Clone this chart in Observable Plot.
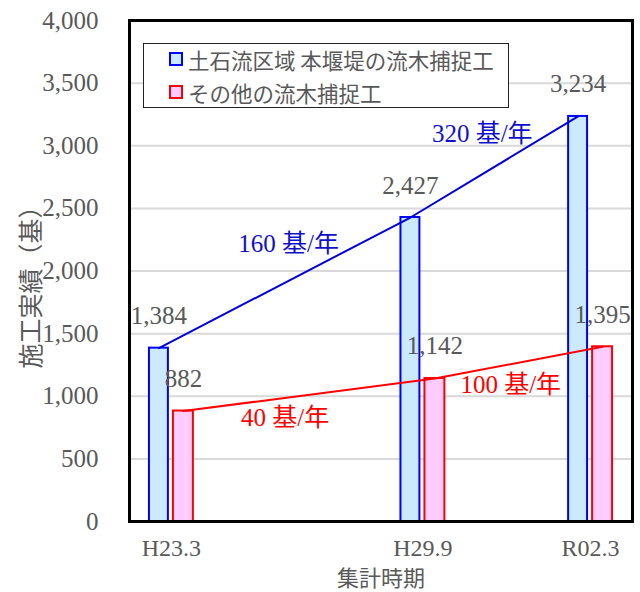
<!DOCTYPE html>
<html>
<head>
<meta charset="utf-8">
<script src="https://cdn.jsdelivr.net/npm/d3@7"></script>
<script src="https://cdn.jsdelivr.net/npm/@observablehq/plot@0.6"></script>
<style>
  body { margin: 0; background: #fff; }
  #wrap { position: relative; width: 640px; height: 592px; }
  #legend {
    position: absolute; left: 143px; top: 43px; width: 366px; height: 65px;
    box-sizing: border-box; border: 1.5px solid #222; background: #fff;
    font-family: "Noto Sans CJK JP", sans-serif; font-size: 21.5px; color: #595959;
  }
  .item { position: absolute; left: 25px; height: 26px; display: flex; align-items: center; white-space: nowrap; }
  .sw { width: 10px; height: 10px; border: 2px solid; margin-right: 5px; }
</style>
</head>
<body>
<div id="wrap"></div>
<script>
// ---- data ----
const periods = ["H23.3", "H29.9", "R02.3"];
const periodPos = [0, 1.5, 2.5];            // relative spacing of the periods on the x axis
const mainDam = [1384, 2427, 3234];          // 土石流区域 本堰堤の流木捕捉工
const otherWorks = [882, 1142, 1395];        // その他の流木捕捉工
const mainRates = [160, 320];                // 基/年 between periods
const otherRates = [40, 100];
const seriesNames = ["土石流区域 本堰堤の流木捕捉工", "その他の流木捕捉工"];
const yTicks = [0, 500, 1000, 1500, 2000, 2500, 3000, 3500, 4000];
const yLabel = "施工実績（基）";
const xLabel = "集計時期";

// ---- style ----
const blueStroke = "#0000ff", blueFill = "#cceaff";
const redStroke = "#ff0000", redFill = "#ffccff";
const blueText = "#1010cc", redText = "#ff0000";
const gray = "#595959";
const serif = '"Liberation Serif", "Noto Sans CJK JP", serif';
const cjk = '"Noto Sans CJK JP", sans-serif';

const rows = periods.map((p, i) => ({period: p, pos: periodPos[i], main: mainDam[i], other: otherWorks[i]}));

// bar offsets (in x units) relative to period position
const bOff = {b1: -0.131, b2: -0.018, r1: 0.012, r2: 0.131};
const bc = (bOff.b1 + bOff.b2) / 2, rc = (bOff.r1 + bOff.r2) / 2;

function rateLabel(vals, rates, i, off, color, dx, dy) {
  const d = {
    x: (periodPos[i] + periodPos[i + 1]) / 2 + off,
    y: (vals[i] + vals[i + 1]) / 2,
    t: `${rates[i]} 基/年`
  };
  return Plot.text([d], {x: "x", y: "y", text: "t", fill: color, fontSize: 25, dx, dy});
}

const chart = Plot.plot({
  width: 640,
  height: 592,
  marginLeft: 129,
  marginRight: 8,
  marginTop: 20,
  marginBottom: 71,
  style: {fontFamily: serif, fontSize: "24px", color: gray, background: "#fff"},
  x: {type: "linear", domain: [-0.25, 2.75], axis: null},
  y: {domain: [0, 4000], axis: null},
  marks: [
    Plot.gridY(yTicks.filter(t => t > 0 && t < 4000), {stroke: "#d9d9d9", strokeWidth: 2, strokeOpacity: 1}),
    Plot.axisY(yTicks, {tickSize: 0, tickPadding: 31, tickFormat: d3.format(","), fontSize: 25, fill: gray, label: null}),
    Plot.axisX(periodPos, {tickSize: 0, tickPadding: 17, tickFormat: (d, i) => periods[i], fontSize: 24, fill: gray, label: null}),
    Plot.rectY(rows, {x1: d => d.pos + bOff.b1, x2: d => d.pos + bOff.b2, y1: 0, y2: "main", fill: blueFill, stroke: blueStroke, strokeWidth: 2}),
    Plot.rectY(rows, {x1: d => d.pos + bOff.r1, x2: d => d.pos + bOff.r2, y1: 0, y2: "other", fill: redFill, stroke: redStroke, strokeWidth: 2}),
    Plot.line(rows, {x: d => d.pos + bc, y: "main", stroke: "#0000dd", strokeWidth: 2}),
    Plot.line(rows, {x: d => d.pos + rc, y: "other", stroke: redStroke, strokeWidth: 2}),
    Plot.text(rows, {x: d => d.pos + bc, y: "main", text: d => d3.format(",")(d.main), dy: -32, fill: gray, fontSize: 25}),
    Plot.text(rows, {x: d => d.pos + rc, y: "other", text: d => d3.format(",")(d.other), dy: -32, fill: gray, fontSize: 25}),
    rateLabel(mainDam, mainRates, 0, bc, blueText, 4, -39),
    rateLabel(mainDam, mainRates, 1, bc, blueText, -12, -33),
    rateLabel(otherWorks, otherRates, 0, rc, redText, -24, 23),
    rateLabel(otherWorks, otherRates, 1, rc, redText, -8, 22),
    Plot.text([yLabel], {frameAnchor: "left", textAnchor: "middle", lineAnchor: "middle", text: d => d, rotate: -90, dx: -98, dy: 10, fill: gray, fontSize: 25, fontFamily: cjk}),
    Plot.text([xLabel], {frameAnchor: "bottom", textAnchor: "middle", lineAnchor: "middle", text: d => d, dy: 57, fill: gray, fontSize: 22, fontFamily: cjk}),
    Plot.frame({stroke: "#000", strokeWidth: 3})
  ]
});

const wrap = document.getElementById("wrap");
wrap.appendChild(chart);

const legend = document.createElement("div");
legend.id = "legend";
const sw = [[blueStroke, blueFill], [redStroke, redFill]];
seriesNames.forEach((name, i) => {
  const it = document.createElement("div");
  it.className = "item";
  it.style.top = (i === 0 ? 2 : 35) + "px";
  const s = document.createElement("span");
  s.className = "sw";
  s.style.borderColor = sw[i][0];
  s.style.background = sw[i][1];
  const t = document.createElement("span");
  t.textContent = name;
  it.appendChild(s); it.appendChild(t);
  legend.appendChild(it);
});
wrap.appendChild(legend);
</script>
</body>
</html>
